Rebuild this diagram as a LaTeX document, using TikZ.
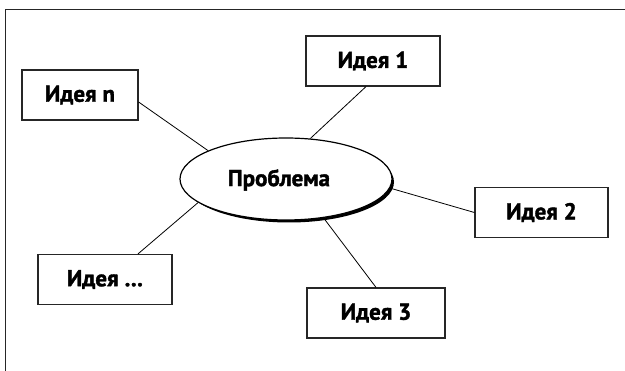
\documentclass[tikz,border=0pt]{standalone}
\usepackage{fontspec}
\setmainfont{PT Sans}
\newfontfamily\heavyfont{PT Sans Bold}[FakeBold=1.6]
\usetikzlibrary{shapes.geometric}
\begin{document}
\begin{tikzpicture}[x=1pt,y=-1pt,
  labelfont/.style={font=\heavyfont\fontsize{23}{26}\selectfont},
  idea/.style={draw=black!85,line width=1.2pt,fill=white,inner sep=0pt,
    minimum height=50pt,labelfont},
  conn/.style={draw=black,line width=0.8pt},
  frameline/.style={draw=black!85,line width=1pt}]
\useasboundingbox (0,0) rectangle (625,371);
\draw[frameline] (5,371) -- (5,10) -- (625,10);
% problem ellipse with shadow
\fill[black] (289,182) ellipse (105 and 40.5);
\node[ellipse,draw=black,line width=1.2pt,fill=white,inner sep=0pt,
  minimum width=212pt,minimum height=82pt] (prob) at (286,179) {};
\node[labelfont] (probtext) at (279,180) {Проблема};
% ideas
\node[idea,minimum width=134pt] (i1) at (373,61) {Идея 1};
\node[idea,minimum width=116pt] (in) at (80,95) {Идея n};
\node[idea,minimum width=133pt] (i2) at (541.5,212.5) {Идея 2};
\node[idea,minimum width=138pt] (i3) at (376,313) {Идея 3};
\node[idea,minimum width=134pt] (idots) at (105,279.5) {Идея \dots};
% connectors
\draw[conn] ([xshift=-7pt]i1.south) -- (prob.59);
\draw[conn] ([yshift=-7pt]in.east) -- (prob.160);
\draw[conn] (i2.west) -- (prob.-5);
\draw[conn] (i3.north) -- (prob.-46);
\draw[conn] ([xshift=33pt]idots.north) -- (prob.195);
\end{tikzpicture}
\end{document}
